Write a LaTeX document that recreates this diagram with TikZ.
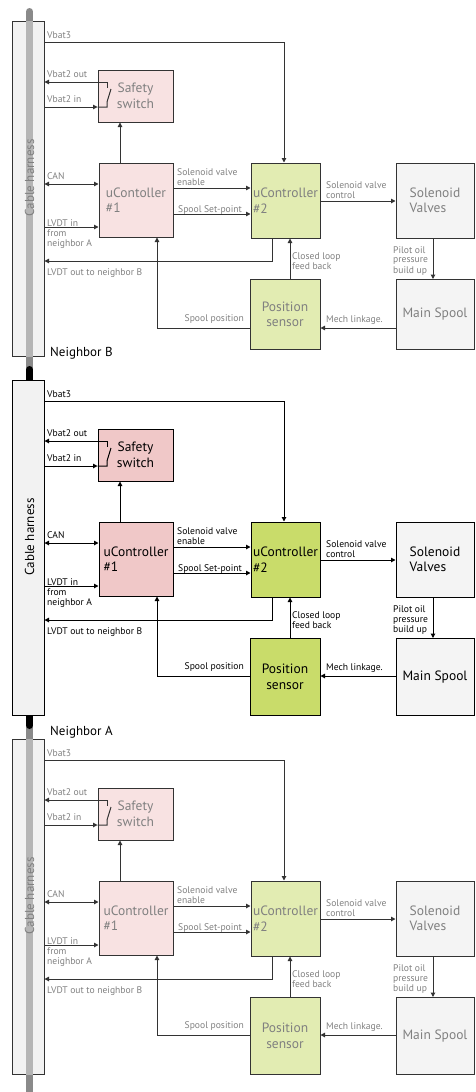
\documentclass[tikz,border=0pt]{standalone}
\usepackage{fontspec}
\setmainfont{PT Sans}
\usetikzlibrary{arrows.meta}
\definecolor{pinkf}{HTML}{F8E2E2}
\definecolor{pinkm}{HTML}{F0C8C8}
\definecolor{greenf}{HTML}{E2ECB2}
\definecolor{greenm}{HTML}{C9DC6A}
\definecolor{boxg}{HTML}{F4F4F4}
\definecolor{harf}{HTML}{F2F2F2}
\definecolor{textf}{HTML}{808080}
\definecolor{linef}{HTML}{333333}
\definecolor{cabd}{HTML}{8A8A8A}
\definecolor{cabl}{HTML}{B5B5B5}
\tikzset{
    blk/.style = {rectangle, line width=1pt, draw=\lc, inner sep=1pt, font=\fontsize{13.5}{15.5}\selectfont},
    wire/.style = {line width=1pt, draw=\lc},
    arr/.style = {wire, -{Triangle[length=4.5pt,width=4.5pt]}},
    dbl/.style = {wire, {Triangle[length=4.5pt,width=4.5pt]}-{Triangle[length=4.5pt,width=4.5pt]}},
    lbl/.style = {inner sep=0pt, font=\fontsize{9.6}{10}\selectfont},
    htext/.style = {rotate=90, inner sep=0pt, font=\fontsize{13}{15}\selectfont},
    nbr/.style = {anchor=base west, inner sep=0pt, font=\fontsize{13}{15}\selectfont},
    cable/.style = {line width=7pt, line cap=round}
}
\begin{document}
\begin{tikzpicture}[x=1pt, y=-1pt]
\useasboundingbox (0,0) rectangle (475,1092);
% cable between the harness boxes
\draw[cable, draw=cabd] (29.5,11.5) -- (29.5,30);
\draw[cable, draw=cabd] (29.5,350) -- (29.5,372);
\draw[cable, draw=cabd] (29.5,722) -- (29.5,745);
\draw[cable, draw=cabd] (29.5,1065) -- (29.5,1100);
\draw[cable, draw=black] (29.5,369.5) -- (29.5,725.5);
\node[nbr] (nbb) at (50,356) {Neighbor B};
\node[nbr] (nba) at (50,735) {Neighbor A};
%
\foreach \dy/\fa/\fb/\tc/\lc/\sc/\ly/\lb/\nm in {
    0/pinkf/greenf/textf/linef/cabl/328/349/uContoller,
    359/pinkm/greenm/black/black/none/317/356/uController,
    718/pinkf/greenf/textf/linef/cabl/317/356/uController}{
\begin{scope}[yshift=-\dy pt, every node/.append style={text=\tc}]
%
\node[blk, fill=harf, minimum width=32pt, minimum height=335pt] (har) at (28,188.5) {};
\draw[cable, draw=\sc, line cap=butt] ([xshift=1.5pt]har.north) -- ([xshift=1.5pt]har.south);
\node[htext] (hlab) at (29.5,178) {Cable harness};
%
\node[blk, fill=\fa, minimum width=75pt, minimum height=52pt, align=center] (ssw) at (135.5,96) {Safety\\switch};
\node[blk, fill=\fa, minimum width=74pt, minimum height=74pt, align=left] (ctla) at (136,200) {\nm\\\#1};
\node[blk, fill=\fb, minimum width=69pt, minimum height=75pt, align=left] (ctlb) at (285.5,200.5) {uController\\\#2};
\node[blk, fill=boxg, minimum width=78pt, minimum height=75pt, align=left] (solv) at (435,200.5) {Solenoid\\Valves};
\node[blk, fill=boxg, anchor=north, minimum width=78pt, minimum height={\lb-279}] (msp) at (435,279) {Main Spool};
\node[blk, fill=\fb, anchor=north, minimum width=70pt, minimum height={\lb-279}, align=center] (psen) at (285,279) {Position\\sensor};
%
\coordinate (swa) at (107,82);
\coordinate (swb) at (107,107);
\draw[arr] (swa) -- (har.east |- swa);
\draw[wire] (swa) -- ++(0,6);
\draw[arr] (har.east |- swb) -- (ssw.west |- swb);
\draw[wire] (ssw.west |- swb) -- (swb) -- ++(0,-5) -- ++(4,-13);
%
\draw[arr] (har.east |- 0,42) -| (ctlb.north -| 284,0);
\draw[dbl] (har.east |- 0,184) -- (ctla.west |- 0,184);
\draw[arr] (har.east |- 0,227) -- (ctla.west |- 0,227);
\draw[arr] (ctla.north -| 120,0) -- (ssw.south -| 120,0);
\draw[arr] (ctla.east |- 0,188) -- (ctlb.west |- 0,188);
\draw[arr] (ctla.east |- 0,214) -- (ctlb.west |- 0,214);
\draw[arr] (ctlb.south -| 272,0) |- (har.east |- 0,261);
\draw[arr] (ctlb.east |- 0,201) -- (solv.west |- 0,201);
\draw[arr] (solv.south -| 433,0) -- (msp.north -| 433,0);
\draw[arr] (msp.west |- 0,\ly) -- (psen.east |- 0,\ly);
\draw[arr] (psen.north -| 290,0) -- (ctlb.south -| 290,0);
\draw[arr] (psen.west |- 0,\ly) -| (ctla.south -| 157,0);
%
\node[lbl, anchor=base west] (lvb3) at (47,38.5) {Vbat3};
\node[lbl, anchor=base west] (lvb2o) at (47,77.5) {Vbat2 out};
\node[lbl, anchor=base west] (lvb2i) at (47,102.5) {Vbat2 in};
\node[lbl, anchor=base west] (lcan) at (47,179.5) {CAN};
\node[lbl, anchor=north west, align=left] (llvi) at (47,219.5) {LVDT in\\from\\neighbor A};
\node[lbl, anchor=base west] (llvo) at (47,275) {LVDT out to neighbor B};
\node[lbl, anchor=south west, align=left] (lena) at (177,185.5) {Solenoid valve\\enable};
\node[lbl, anchor=base west] (lset) at (178,212) {Spool Set-point};
\node[lbl, anchor=south west, align=left] (lctl) at (326,198.5) {Solenoid valve\\control};
\node[lbl, anchor=north west, align=left] (lpil) at (393,246) {Pilot oil\\pressure\\build up};
\node[lbl, anchor=north west, align=left] (lclo) at (292,252) {Closed loop\\feed back};
\node[lbl, anchor=base east] (lspp) at (244,{\ly-7}) {Spool position};
\node[lbl, anchor=base west] (lmech) at (326,{\ly-6}) {Mech linkage.};
\end{scope}
}
\end{tikzpicture}
\end{document}
